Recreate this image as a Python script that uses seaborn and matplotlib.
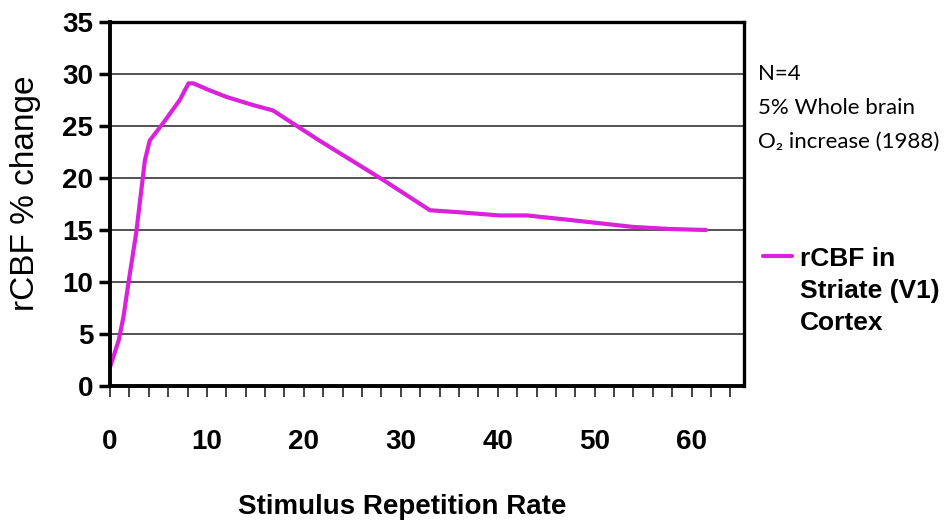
import matplotlib
matplotlib.use('Agg')
import matplotlib.pyplot as plt
import seaborn as sns
import numpy as np
import pandas as pd

# values
rate = [0, 0.9, 1.4, 1.9, 2.7, 3.6, 4.1, 5.5, 7.2, 8.1, 8.6, 10.1, 12, 14.8, 16.8,
        21.6, 28.2, 33, 36.1, 40.2, 43, 47.1, 53.9, 57.7, 61.5]
rcbf = [1.8, 4.4, 6.7, 9.9, 14.7, 21.7, 23.6, 25.3, 27.5, 29.1, 29.1, 28.5, 27.8, 27.0, 26.5,
        23.6, 19.8, 16.9, 16.7, 16.4, 16.4, 16.0, 15.3, 15.1, 15.0]
series_label = 'rCBF in\nStriate (V1)\nCortex'
notes = ['N=4', '5% Whole brain', 'O\u2082 increase (1988)']

sns.set_style('white')
plt.rcParams['font.family'] = ['Liberation Sans', 'DejaVu Sans']
plt.rcParams['text.color'] = 'black'
plt.rcParams['axes.labelcolor'] = 'black'
plt.rcParams['xtick.color'] = 'black'
plt.rcParams['ytick.color'] = 'black'

df = pd.DataFrame({'rate': rate, 'rcbf': rcbf})

fig = plt.figure(figsize=(9.49, 5.25), dpi=100)
ax = fig.add_axes([110/949, 139/525, 634/949, 364/525])

sns.lineplot(data=df, x='rate', y='rcbf', ax=ax, color='#DA22DA', linewidth=3,
             label=series_label, legend=True)

ax.set_xlim(0, 65.4)
ax.set_ylim(0, 35)
ax.set_xticks(np.arange(0, 61, 10))
ax.set_xticks(np.arange(0, 65, 2), minor=True)
ax.set_yticks(np.arange(0, 36, 5))
ax.tick_params(axis='x', which='both', direction='out', length=8, width=1.2,
               color='#222222', bottom=True)
ax.tick_params(axis='x', which='major', pad=23, labelsize=20)
ax.tick_params(axis='y', which='major', direction='out', length=8, width=2.5,
               color='black', left=True, labelsize=20, pad=4)
for lbl in ax.get_xticklabels() + ax.get_yticklabels():
    lbl.set_fontweight('bold')

ax.yaxis.grid(True, color='#444444', linewidth=1.3)
ax.xaxis.grid(False)
for side in ['left', 'bottom', 'top', 'right']:
    ax.spines[side].set_visible(True)
    ax.spines[side].set_color('black')
    ax.spines[side].set_linewidth(2.4)
ax.spines['left'].set_linewidth(2.8)
ax.spines['bottom'].set_linewidth(2.8)

ax.set_xlabel('')
ax.set_ylabel('')
fig.text(26/949, 1 - 193/525, 'rCBF % change', rotation=90, ha='center', va='center',
         fontsize=24)
fig.text(402/949, 1 - 507/525, 'Stimulus Repetition Rate', ha='center', va='center',
         fontsize=20, fontweight='bold')

for i, t in enumerate(notes):
    fig.text(758/949, 1 - (74 + 34 * i)/525, t, ha='left', va='center', fontsize=16,
             family=['Lato', 'DejaVu Sans'])

leg = ax.legend(loc='upper left', bbox_to_anchor=(763/949, 1 - 247/525),
                bbox_transform=fig.transFigure, frameon=False,
                handlelength=1.1, handletextpad=0.3, borderaxespad=0, borderpad=0,
                prop={'weight': 'bold', 'size': 19})
leg.get_texts()[0].set_linespacing(1.42)
# put the legend line next to the first text line
for col in leg._legend_handle_box.get_children():
    for row in col.get_children():
        row.align = 'top'

fig.savefig('out.png', dpi=100)
